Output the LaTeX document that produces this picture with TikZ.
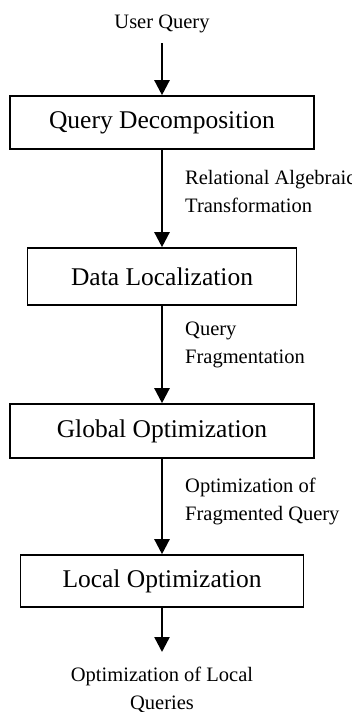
\documentclass[tikz,border=0pt]{standalone}
\usepackage{fontspec}
\setmainfont{Liberation Serif}
\usetikzlibrary{arrows.meta}
\begin{document}
\begin{tikzpicture}[x=1pt,y=1pt,
  stagebox/.style={draw,line width=1.6pt,minimum height=#1,inner sep=0pt,font=\fontsize{25.5}{30}\selectfont},
  lbl/.style={align=left,inner sep=0pt,anchor=base west,font=\fontsize{20.5}{27.5}\selectfont},
  flow/.style={line width=2.4pt,-{Triangle[width=15pt,length=15pt]}}]
\clip (0,0) rectangle (352,-712);
\useasboundingbox (0,0) rectangle (352,-712);
\node[inner sep=0pt,anchor=base,font=\fontsize{20.5}{24}\selectfont] (uq) at (162,-28) {User Query};
\coordinate (uqs) at (162,-43);
\node[stagebox=53pt,minimum width=303.5pt] (b1) at (162,-122.5) {Query Decomposition};
\node[stagebox=57pt,minimum width=269pt] (b2) at (162,-276.5) {Data Localization};
\node[stagebox=54pt,minimum width=304pt] (b3) at (162,-431) {Global Optimization};
\node[stagebox=52pt,minimum width=283pt] (b4) at (162,-581) {Local Optimization};
\coordinate (end) at (162,-652);
\draw[flow] (uqs) -- (b1.north);
\draw[flow] (b1.south) -- (b2.north);
\draw[flow] (b2.south) -- (b3.north);
\draw[flow] (b3.south) -- (b4.north);
\draw[flow] (b4.south) -- (end);
\node[lbl] (l1) at (185,-212) {Relational Algebraic\\Transformation};
\node[lbl] (l2) at (185,-363) {Query\\Fragmentation};
\node[lbl] (l3) at (185,-520) {Optimization of\\Fragmented Query};
\node[align=center,inner sep=0pt,anchor=base,font=\fontsize{20.5}{27.5}\selectfont] (l4) at (162,-709) {Optimization of Local\\Queries};
\end{tikzpicture}
\end{document}
